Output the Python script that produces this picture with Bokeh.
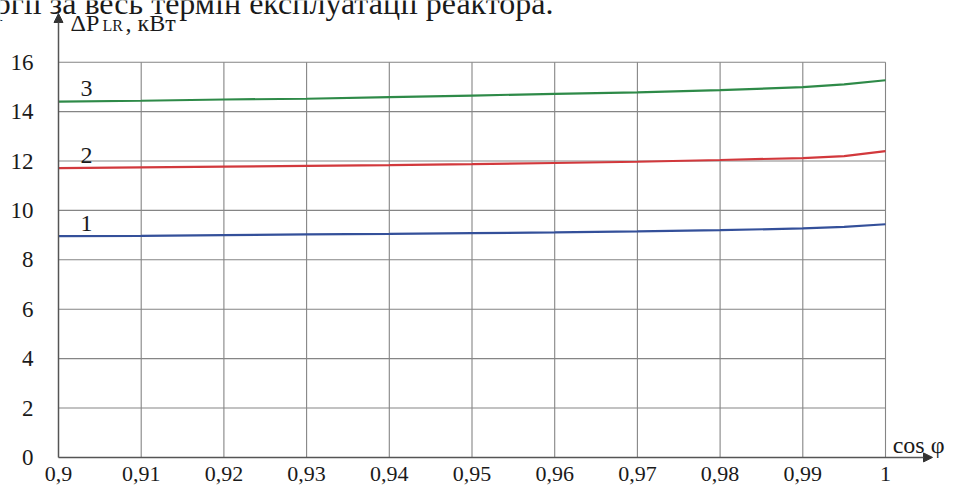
from bokeh.plotting import figure
from bokeh.models import FixedTicker, Label, Arrow, NormalHead, Range1d, LinearAxis
from bokeh.core.properties import value
from bokeh.embed import file_html
from bokeh.resources import INLINE

# ---- data ----
cos_phi = [0.90, 0.91, 0.92, 0.93, 0.94, 0.95, 0.96, 0.97, 0.98, 0.99, 0.995, 1.00]
dp1 = [8.96, 8.97, 9.00, 9.03, 9.05, 9.08, 9.11, 9.15, 9.20, 9.27, 9.33, 9.44]
dp2 = [11.71, 11.74, 11.77, 11.80, 11.83, 11.87, 11.92, 11.97, 12.04, 12.12, 12.20, 12.40]
dp3 = [14.40, 14.44, 14.49, 14.52, 14.59, 14.65, 14.72, 14.78, 14.87, 14.99, 15.10, 15.27]
series = [dp1, dp2, dp3]
series_names = ["1", "2", "3"]
colors = ["#34509a", "#d2383c", "#2e8a48"]

x_ticks = [0.90, 0.91, 0.92, 0.93, 0.94, 0.95, 0.96, 0.97, 0.98, 0.99, 1.00]
x_tick_labels = ["0,9", "0,91", "0,92", "0,93", "0,94", "0,95", "0,96", "0,97", "0,98", "0,99", "1"]
y_ticks = [0, 2, 4, 6, 8, 10, 12, 14, 16]

caption = "ргії за весь термін експлуатації реактора."
y_title_main = "ΔP"
y_title_sub = "LR"
y_title_unit = ", кВт"
x_title = "cos φ"

FONT = "Liberation Serif"
W, H = 945, 487
ox, oy = 58.0, 456.9      # screen position of (0.9, 0)
px_x, px_y = 8270.0, 24.7  # pixels per data unit
arrow_x_px, arrow_y_px = 932.0, 13.0

x0 = x_ticks[0]
y0 = y_ticks[0]
p = figure(width=W, height=H, output_backend="svg", toolbar_location=None,
           x_axis_type=None, y_axis_type=None,
           x_range=Range1d(x0 - ox / px_x, x0 + (W - ox) / px_x),
           y_range=Range1d(y0 - (H - oy) / px_y, y0 + oy / px_y),
           min_border=0)
p.outline_line_color = None
p.background_fill_color = "white"
p.border_fill_color = "white"

x_tip = x0 + (arrow_x_px - ox) / px_x
y_tip = y0 + (oy - arrow_y_px) / px_y

# grid lines from tick values
grid_kw = dict(line_color="#858585", line_width=1.1)
p.segment(x0=x_ticks[1:], y0=[y_ticks[0]] * (len(x_ticks) - 1),
          x1=x_ticks[1:], y1=[y_ticks[-1]] * (len(x_ticks) - 1), **grid_kw)
p.segment(x0=[x_ticks[0]] * (len(y_ticks) - 1), y0=y_ticks[1:],
          x1=[x_ticks[-1]] * (len(y_ticks) - 1), y1=y_ticks[1:], **grid_kw)

xax = LinearAxis(fixed_location=y0, ticker=FixedTicker(ticks=x_ticks))
yax = LinearAxis(fixed_location=x0, ticker=FixedTicker(ticks=y_ticks))
for ax in (xax, yax):
    ax.major_tick_line_color = None
    ax.minor_tick_line_color = None
    ax.axis_line_color = None
    ax.major_label_text_font = FONT
    ax.major_label_text_color = "#1a1a1a"
xax.major_label_text_font_size = "22px"
yax.major_label_text_font_size = "23px"
xax.major_label_overrides = {t: l for t, l in zip(x_ticks, x_tick_labels)}
xax.major_label_standoff = 4
yax.major_label_standoff = 19
p.add_layout(xax, "below")
p.add_layout(yax, "left")

for s, c in zip(series, colors):
    p.line(cos_phi, s, line_color=c, line_width=2.2)

p.text(x=[cos_phi[0]] * 3, y=[s[0] for s in series], text=series_names,
       x_offset=28, y_offset=-13, text_font=value(FONT), text_font_size="24px",
       text_color="#1a1a1a", text_align="center", text_baseline="middle")

# axis arrows
head = dict(size=9, fill_color="#333333", line_color="#333333")
p.add_layout(Arrow(x_start=x0, y_start=y0, x_end=x_tip, y_end=y0,
                   line_color="#555555", line_width=1.5, end=NormalHead(**head)))
p.add_layout(Arrow(x_start=x0, y_start=y0, x_end=x0, y_end=y_tip,
                   line_color="#555555", line_width=1.5, end=NormalHead(**head)))

lab = dict(text_font=FONT, text_color="#1a1a1a", text_baseline="middle")
ytop = y_ticks[-1]
p.add_layout(Label(x=x0, y=ytop, x_offset=12, y_offset=39.5, text=y_title_main,
                   text_font_size="24px", **lab))
p.add_layout(Label(x=x0, y=ytop, x_offset=44, y_offset=36.5, text=y_title_sub,
                   text_font_size="16px", **lab))
p.add_layout(Label(x=x0, y=ytop, x_offset=67, y_offset=39.5, text=y_title_unit,
                   text_font_size="24px", **lab))
p.add_layout(Label(x=x_ticks[-1], y=y0, x_offset=59, y_offset=12, text=x_title,
                   text_align="right", text_font_size="24px", **lab))
p.add_layout(Label(x=x0, y=ytop, x_offset=495, y_offset=59.7, text=caption,
                   text_align="right", text_font_size="32px", **lab))

open("out.html", "w").write(file_html(p, INLINE))
